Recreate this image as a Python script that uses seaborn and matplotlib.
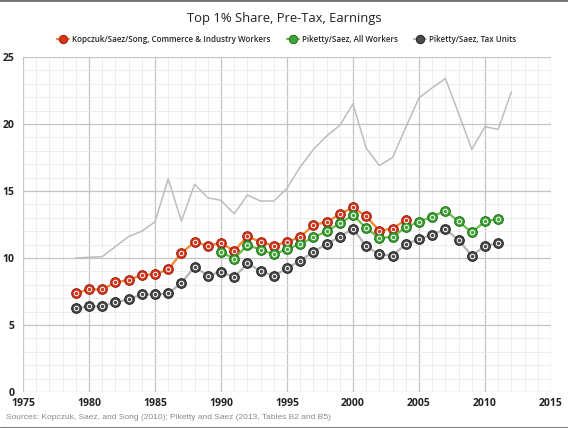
import matplotlib
matplotlib.use("Agg")
import matplotlib.pyplot as plt
import pandas as pd
import seaborn as sns
from matplotlib.lines import Line2D
from matplotlib.ticker import MultipleLocator

# Data
years_all = list(range(1979, 2013))
top_line = [10.0, 10.05, 10.1, 10.85, 11.6, 12.0, 12.7, 15.9, 12.75, 15.5,
            14.5, 14.3, 13.3, 14.7, 14.25, 14.25, 15.2, 16.8, 18.1, 19.1,
            19.9, 21.5, 18.2, 16.9, 17.5, 19.75, 21.95, 22.7, 23.4, 20.8,
            18.1, 19.8, 19.6, 22.4]

years_ksz = list(range(1979, 2005))
ksz = [7.36, 7.66, 7.66, 8.18, 8.36, 8.73, 8.78, 9.15, 10.37, 11.19,
       10.92, 11.12, 10.52, 11.62, 11.2, 10.92, 11.2, 11.57, 12.46, 12.69,
       13.25, 13.8, 13.1, 12.04, 12.2, 12.84]

years_ps_all = list(range(1990, 2012))
ps_all = [10.44, 9.95, 10.95, 10.63, 10.27, 10.66, 11.04, 11.54, 11.99, 12.58,
          13.2, 12.24, 11.47, 11.59, 12.28, 12.71, 13.08, 13.53, 12.73, 11.91,
          12.73, 12.91]

years_ps_tax = list(range(1979, 2012))
ps_tax = [6.24, 6.39, 6.39, 6.69, 6.91, 7.28, 7.28, 7.36, 8.13, 9.35,
          8.68, 8.98, 8.55, 9.6, 9.03, 8.68, 9.22, 9.8, 10.47, 11.04,
          11.59, 12.2, 10.87, 10.27, 10.17, 11.04, 11.39, 11.74, 12.16, 11.34,
          10.17, 10.9, 11.09]

labels = ["Kopczuk/Saez/Song, Commerce & Industry Workers",
          "Piketty/Saez, All Workers",
          "Piketty/Saez, Tax Units"]

sns.set_theme(style="white")
plt.rcParams['font.family'] = ['Open Sans', 'DejaVu Sans']

fig, ax = plt.subplots(figsize=(5.68, 4.28), dpi=100)
fig.subplots_adjust(left=0.0405, right=0.970, bottom=0.0841, top=0.8668)

# grid
ax.xaxis.set_major_locator(MultipleLocator(5))
ax.xaxis.set_minor_locator(MultipleLocator(1))
ax.yaxis.set_major_locator(MultipleLocator(5))
ax.yaxis.set_minor_locator(MultipleLocator(1))
ax.grid(which='major', color='#c4c4c4', linewidth=0.9)
ax.grid(which='minor', color='#ebebeb', linewidth=0.6)
ax.set_axisbelow(True)
for s in ax.spines.values():
    s.set_visible(False)

# top gray line (no markers)
sns.lineplot(x=years_all, y=top_line, ax=ax, color='#bdbdbd', linewidth=1.1)

series = [
    (years_ksz, ksz, '#f7852a', '#d8361c', '#9a2010'),
    (years_ps_all, ps_all, '#6cbd45', '#3fa535', '#1d6a1a'),
    (years_ps_tax, ps_tax, '#b5b5b5', '#4a4a4a', '#222222'),
]
handles = []
for (xs, ys, lc, fc, ec), lab in zip(series, labels):
    sns.lineplot(x=xs, y=ys, ax=ax, color=lc, linewidth=1.6,
                 marker='o', markersize=7, markerfacecolor=fc,
                 markeredgecolor=ec, markeredgewidth=0.7, zorder=3)
    ax.plot(xs, ys, linestyle='none', marker='o', markersize=3.2,
            markerfacecolor='none', markeredgecolor='white',
            markeredgewidth=0.7, zorder=4)
    handles.append(Line2D([], [], color=lc, linewidth=1.6, marker='o',
                          markersize=6, markerfacecolor=fc, markeredgecolor=ec,
                          markeredgewidth=0.7))

ax.set_xlim(1975, 2015)
ax.set_ylim(0, 25)
ax.set_xticks(range(1975, 2016, 5))
ax.set_yticks(range(0, 26, 5))
ax.tick_params(axis='both', which='both', length=0, labelsize=7.5, pad=4)
for t in ax.get_xticklabels() + ax.get_yticklabels():
    t.set_fontweight('bold')
    t.set_color('#222222')
ax.tick_params(axis='y', pad=6)
ax.set_xlabel('')
ax.set_ylabel('')

fig.suptitle("Top 1% Share, Pre-Tax, Earnings", x=0.5, y=0.972,
             fontsize=9.4, color='#222222')
fig.legend(handles=handles, labels=labels, loc='center', ncol=3,
           bbox_to_anchor=(0.505, 0.907), frameon=False,
           prop={'size': 5.8, 'weight': 'semibold'}, handlelength=1.5,
           handletextpad=0.4, columnspacing=2.0)

fig.text(0.01, 0.022, "Sources: Kopczuk, Saez, and Song (2010); Piketty and Saez (2013, Tables B2 and B5)",
         fontsize=6.0, color='#8a8a8a', family=['Liberation Sans', 'DejaVu Sans'])

fig.add_artist(Line2D([0, 1], [0.999, 0.999], color='#707070', linewidth=2,
                      transform=fig.transFigure))
fig.add_artist(Line2D([0, 1], [0.001, 0.001], color='#707070', linewidth=2,
                      transform=fig.transFigure))

fig.savefig('out.png', dpi=100)
